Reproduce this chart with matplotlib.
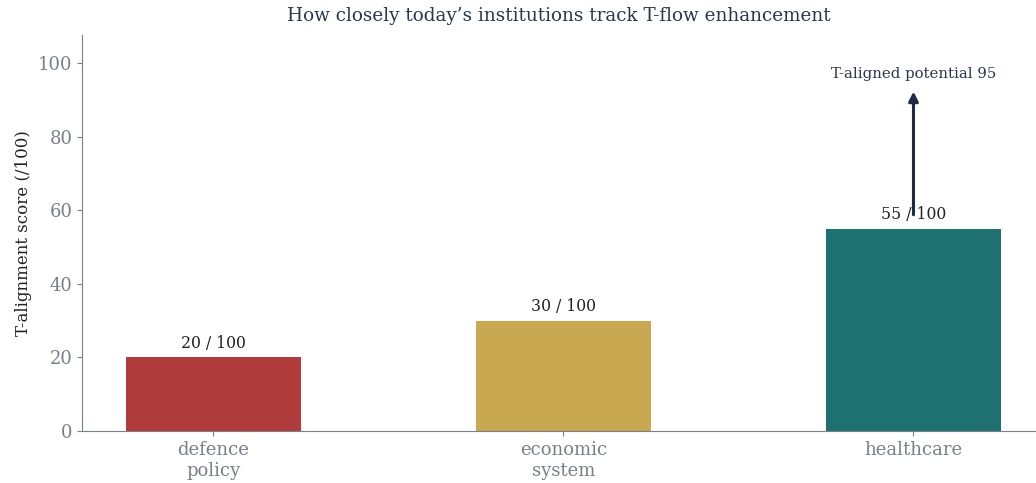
import matplotlib.pyplot as plt

categories = ["defence\npolicy", "economic\nsystem", "healthcare"]
scores = [20, 30, 55]
potential = 95
colors = ["#b03c3c", "#c8a850", "#1f7070"]

plt.rcParams['font.family'] = 'DejaVu Serif'
navy = "#1f2a4a"
grey = "#7a7f8c"

fig = plt.figure(figsize=(10.36, 4.83), dpi=100)
ax = fig.add_axes([82 / 1036, 52 / 483, 954 / 1036, 396 / 483])

x = range(len(categories))
bars = ax.bar(x, scores, width=0.5, color=colors)
for xi, s in zip(x, scores):
    ax.text(xi, s + 1.5, f"{s} / 100", ha='center', va='bottom', fontsize=11.3, color="#222222")

# potential arrow for healthcare
ax.annotate("", xy=(2, potential - 2), xytext=(2, scores[2] + 3),
            arrowprops=dict(arrowstyle="-|>", color=navy, lw=2.2, mutation_scale=14))
ax.text(2, potential + 2, f"T-aligned potential {potential}", ha='center', va='center',
        fontsize=10.7, color="#2a3550")

ax.set_xlim(-0.375, 2.35)
ax.set_ylim(0, 107.6)
ax.set_xticks(list(x))
ax.set_xticklabels(categories, fontsize=13, color=grey, linespacing=1.25)
ax.tick_params(axis='y', labelsize=13, labelcolor=grey, color=grey)
ax.tick_params(axis='x', color=grey)
ax.set_ylabel("T-alignment score (/100)", fontsize=12, color="#222222")
ax.set_title("How closely today\u2019s institutions track T-flow enhancement", fontsize=13.2, color="#2a3550", pad=10)

for side in ['top', 'right']:
    ax.spines[side].set_visible(False)
for side in ['left', 'bottom']:
    ax.spines[side].set_color(grey)

fig.savefig("out.png", dpi=100)
